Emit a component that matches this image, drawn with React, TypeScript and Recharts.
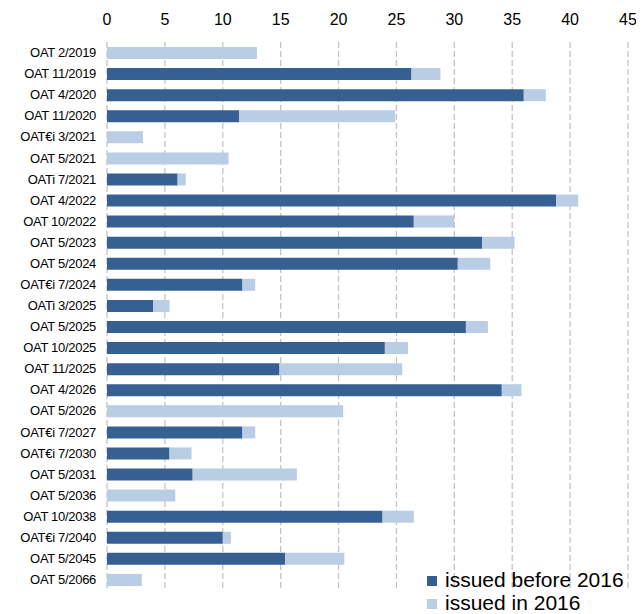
import { BarChart, Bar, XAxis, YAxis, CartesianGrid } from "recharts";

const bonds = [
  "OAT 2/2019", "OAT 11/2019", "OAT 4/2020", "OAT 11/2020", "OAT€i 3/2021",
  "OAT 5/2021", "OATi 7/2021", "OAT 4/2022", "OAT 10/2022", "OAT 5/2023",
  "OAT 5/2024", "OAT€i 7/2024", "OATi 3/2025", "OAT 5/2025", "OAT 10/2025",
  "OAT 11/2025", "OAT 4/2026", "OAT 5/2026", "OAT€i 7/2027", "OAT€i 7/2030",
  "OAT 5/2031", "OAT 5/2036", "OAT 10/2038", "OAT€i 7/2040", "OAT 5/2045",
  "OAT 5/2066",
];

// outstanding issued before 2016
const issuedBefore = [
  0, 26.3, 36.0, 11.4, 0,
  0, 6.1, 38.8, 26.5, 32.4,
  30.3, 11.7, 4.0, 31.0, 24.0,
  14.9, 34.1, 0, 11.7, 5.4,
  7.4, 0, 23.8, 10.0, 15.4,
  0,
];

// issued during 2016
const issuedIn2016 = [
  12.95, 2.5, 1.9, 13.5, 3.1,
  10.5, 0.7, 1.9, 3.5, 2.8,
  2.8, 1.1, 1.4, 1.9, 2.0,
  10.6, 1.7, 20.4, 1.1, 1.9,
  9.0, 5.9, 2.7, 0.7, 5.1,
  3.0,
];

const xTicks = [0, 5, 10, 15, 20, 25, 30, 35, 40, 45];

const DARK = "#376092";
const LIGHT = "#B9CDE5";
const FONT = "'Liberation Sans', Arial, sans-serif";

const data = bonds.map((name, i) => ({
  name,
  before: issuedBefore[i],
  in2016: issuedIn2016[i],
}));

const legendItems = [
  { label: "issued before 2016", color: DARK },
  { label: "issued in 2016", color: LIGHT },
];

function LegendBox() {
  return (
    <div style={{ position: "absolute", left: 419, top: 561, fontFamily: FONT, fontSize: 21, color: "#000" }}>
      {legendItems.map((it) => (
        <div key={it.label} style={{ display: "flex", alignItems: "center", height: 22.5, whiteSpace: "nowrap" }}>
          <span style={{ display: "inline-block", width: 10, height: 10, background: it.color, marginRight: 8, marginTop: 2 }} />
          <span>{it.label}</span>
        </div>
      ))}
    </div>
  );
}

export default function App() {
  return (
    <div style={{ position: "relative", width: 636, height: 606 }}>
      <BarChart
        width={636}
        height={606}
        data={data}
        layout="vertical"
        margin={{ top: 0, right: 16, bottom: 24, left: 0 }}
      >
        <CartesianGrid horizontal={false} stroke="#C4C4C4" strokeWidth={1.3} strokeDasharray="6 3" />
        <XAxis
          type="number"
          orientation="top"
          domain={[0, 45]}
          ticks={xTicks}
          height={34}
          axisLine={false}
          tickLine={false}
          tickMargin={11}
          tick={{ fontSize: 16, fill: "#000", fontFamily: FONT }}
        />
        <YAxis
          type="category"
          dataKey="name"
          width={99}
          axisLine={false}
          tickLine={false}
          tickMargin={5}
          interval={0}
          tick={{ fontSize: 13, fill: "#000", fontFamily: FONT, letterSpacing: -0.3 }}
        />
        <Bar dataKey="before" stackId="a" fill={DARK} barSize={12} isAnimationActive={false} />
        <Bar dataKey="in2016" stackId="a" fill={LIGHT} barSize={12} isAnimationActive={false} />
      </BarChart>
      <LegendBox />
    </div>
  );
}
